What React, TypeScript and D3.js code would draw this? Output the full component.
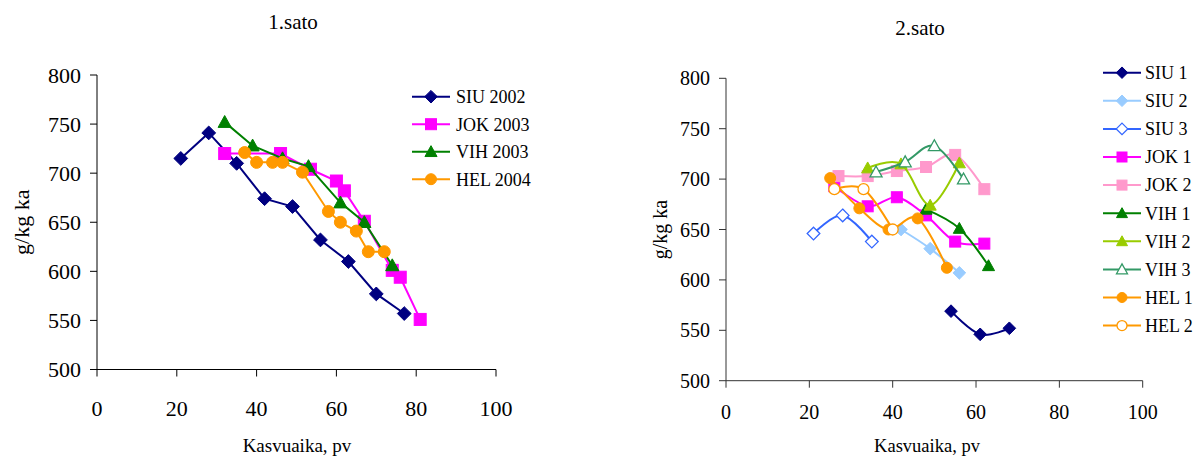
import React from "react";
import * as d3 from "d3";

// ---- 1.sato ----
const siu2002X = [21, 28, 35, 42, 49, 56, 63, 70, 77];
const siu2002Y = [715, 741, 710, 674, 666, 632, 610, 577, 557];
const jok2003X = [32, 46, 53.5, 60, 62, 67, 74, 76, 81];
const jok2003Y = [720, 720, 704, 692, 682, 651, 601, 594, 551];
const vih2003X = [32, 39, 46.5, 53, 61, 67, 74];
const vih2003Y = [752, 728, 715, 707, 670, 650, 606];
const hel2004X = [37, 40, 44, 46.5, 51.5, 58, 61, 65, 68, 72];
const hel2004Y = [721, 711, 711, 711, 701, 661, 650, 641, 620, 620];

// ---- 2.sato ----
const siu1X = [54, 61, 68];
const siu1Y = [569, 546, 552];
const siu2X = [42, 49, 56];
const siu2Y = [650, 631, 607];
const siu3X = [21, 28, 35];
const siu3Y = [646, 664, 638];
const jok1X = [26, 34, 41, 48, 55, 62];
const jok1Y = [693, 673, 682, 664, 638, 636];
const jok2X = [27, 34, 41, 48, 55, 62];
const jok2Y = [703, 703, 708, 712, 724, 690];
const vih1X = [48, 56, 63];
const vih1Y = [670, 651, 614];
const vih2X = [34, 42, 49, 56];
const vih2Y = [711, 715, 674, 716];
const vih3X = [36, 43, 50, 57];
const vih3Y = [707, 717, 733, 700];
const hel1X = [25, 32, 39, 46, 53];
const hel1Y = [701, 671, 650, 661, 612];
const hel2X = [26, 33, 40];
const hel2Y = [690, 690, 650];

const xTicks = [0, 20, 40, 60, 80, 100];
const yTicks = [500, 550, 600, 650, 700, 750, 800];

type Marker = "diamond" | "square" | "triangle" | "circle";
type Series = {
  name: string;
  xs: number[];
  ys: number[];
  color: string;
  marker: Marker;
  filled: boolean;
};

const leftSeries: Series[] = [
  { name: "SIU 2002", xs: siu2002X, ys: siu2002Y, color: "#000080", marker: "diamond", filled: true },
  { name: "JOK 2003", xs: jok2003X, ys: jok2003Y, color: "#FF00FF", marker: "square", filled: true },
  { name: "VIH 2003", xs: vih2003X, ys: vih2003Y, color: "#008000", marker: "triangle", filled: true },
  { name: "HEL 2004", xs: hel2004X, ys: hel2004Y, color: "#FF9900", marker: "circle", filled: true },
];

const rightSeries: Series[] = [
  { name: "SIU 1", xs: siu1X, ys: siu1Y, color: "#000080", marker: "diamond", filled: true },
  { name: "SIU 2", xs: siu2X, ys: siu2Y, color: "#99CCFF", marker: "diamond", filled: true },
  { name: "SIU 3", xs: siu3X, ys: siu3Y, color: "#3366FF", marker: "diamond", filled: false },
  { name: "JOK 1", xs: jok1X, ys: jok1Y, color: "#FF00FF", marker: "square", filled: true },
  { name: "JOK 2", xs: jok2X, ys: jok2Y, color: "#FF99CC", marker: "square", filled: true },
  { name: "VIH 1", xs: vih1X, ys: vih1Y, color: "#008000", marker: "triangle", filled: true },
  { name: "VIH 2", xs: vih2X, ys: vih2Y, color: "#99CC00", marker: "triangle", filled: true },
  { name: "VIH 3", xs: vih3X, ys: vih3Y, color: "#339966", marker: "triangle", filled: false },
  { name: "HEL 1", xs: hel1X, ys: hel1Y, color: "#FF9900", marker: "circle", filled: true },
  { name: "HEL 2", xs: hel2X, ys: hel2Y, color: "#FF9900", marker: "circle", filled: false },
];

const FONT = "'Liberation Serif', 'Times New Roman', serif";

function MarkerShape({ kind, x, y, size, color, filled }: { kind: Marker; x: number; y: number; size: number; color: string; filled: boolean }) {
  const s = size / 2;
  const fill = filled ? color : "#ffffff";
  const sw = filled ? 1 : 1.3;
  if (kind === "circle") {
    return <circle cx={x} cy={y} r={s} fill={fill} stroke={color} strokeWidth={sw} />;
  }
  if (kind === "square") {
    return <rect x={x - s} y={y - s} width={size} height={size} fill={fill} stroke={color} strokeWidth={sw} />;
  }
  if (kind === "diamond") {
    const d = s * 1.15;
    return <path d={`M${x},${y - d}L${x + d},${y}L${x},${y + d}L${x - d},${y}Z`} fill={fill} stroke={color} strokeWidth={sw} />;
  }
  const t = s * 1.1;
  return <path d={`M${x},${y - t}L${x + t},${y + t * 0.8}L${x - t},${y + t * 0.8}Z`} fill={fill} stroke={color} strokeWidth={sw} />;
}

type PanelProps = {
  title: string;
  titleX: number;
  titleY: number;
  left: number;
  right: number;
  top: number;
  bottom: number;
  series: Series[];
  smooth: boolean;
  tickFont: number;
  labelFont: number;
  axisColor: string;
  markerSize: number;
  yLabelX: number;
  xLabelX: number;
  xLabelY: number;
  xTickY: number;
  legendLineX0: number;
  legendLineX1: number;
  legendTextX: number;
  legendY0: number;
  legendStep: number;
};

function Panel(p: PanelProps) {
  const x = d3.scaleLinear().domain([0, 100]).range([p.left, p.right]);
  const y = d3.scaleLinear().domain([500, 800]).range([p.bottom, p.top]);
  const line = d3
    .line<[number, number]>()
    .x((d) => x(d[0]))
    .y((d) => y(d[1]))
    .curve(p.smooth ? d3.curveCardinal.tension(0) : d3.curveLinear);
  const yMid = (p.top + p.bottom) / 2;
  return (
    <g>
      <text x={p.titleX} y={p.titleY} textAnchor="middle" fontSize={21} fontFamily={FONT} fill="#000">
        {p.title}
      </text>
      {/* axes */}
      <line x1={p.left} x2={p.left} y1={p.top} y2={p.bottom} stroke={p.axisColor} strokeWidth={1} />
      <line x1={p.left} x2={p.right} y1={p.bottom} y2={p.bottom} stroke={p.axisColor} strokeWidth={1} />
      {yTicks.map((t) => (
        <g key={"y" + t}>
          <line x1={p.left - 7} x2={p.left} y1={y(t)} y2={y(t)} stroke={p.axisColor} />
          <text x={p.left - 16} y={y(t)} dy="0.35em" textAnchor="end" fontSize={p.tickFont} fontFamily={FONT} fill="#000">
            {t}
          </text>
        </g>
      ))}
      {xTicks.map((t) => (
        <g key={"x" + t}>
          <line x1={x(t)} x2={x(t)} y1={p.bottom} y2={p.bottom + 7} stroke={p.axisColor} />
          <text x={x(t)} y={p.xTickY} textAnchor="middle" fontSize={p.tickFont} fontFamily={FONT} fill="#000">
            {t}
          </text>
        </g>
      ))}
      <text
        transform={`translate(${p.yLabelX},${yMid}) rotate(-90)`}
        textAnchor="middle"
        dy="0.35em"
        fontSize={p.tickFont}
        fontFamily={FONT}
        fill="#000"
      >
        g/kg ka
      </text>
      <text x={p.xLabelX} y={p.xLabelY} textAnchor="middle" fontSize={p.labelFont} fontFamily={FONT} fill="#000">
        Kasvuaika, pv
      </text>
      {/* series */}
      {p.series.map((s) => {
        const pts = s.xs.map((v, i) => [v, s.ys[i]] as [number, number]);
        return (
          <g key={s.name}>
            <path d={line(pts) || ""} fill="none" stroke={s.color} strokeWidth={2} />
            {pts.map((d, i) => (
              <MarkerShape key={i} kind={s.marker} x={x(d[0])} y={y(d[1])} size={p.markerSize} color={s.color} filled={s.filled} />
            ))}
          </g>
        );
      })}
      {/* legend */}
      {p.series.map((s, i) => {
        const ly = p.legendY0 + i * p.legendStep;
        return (
          <g key={"lg" + s.name}>
            <line x1={p.legendLineX0} x2={p.legendLineX1} y1={ly} y2={ly} stroke={s.color} strokeWidth={2} />
            <MarkerShape kind={s.marker} x={(p.legendLineX0 + p.legendLineX1) / 2} y={ly} size={p.markerSize - 1} color={s.color} filled={s.filled} />
            <text x={p.legendTextX} y={ly} dy="0.35em" fontSize={18} fontFamily={FONT} fill="#000">
              {s.name}
            </text>
          </g>
        );
      })}
    </g>
  );
}

export default function App() {
  return (
    <svg width={1199} height={460} style={{ position: "absolute", left: 0, top: 0, background: "#fff" }}>
      <rect x={0} y={0} width={1199} height={460} fill="#fff" />
      <Panel
        title="1.sato"
        titleX={293}
        titleY={29}
        left={97}
        right={496}
        top={75}
        bottom={369.5}
        series={leftSeries}
        smooth={false}
        tickFont={22}
        labelFont={19}
        axisColor="#000"
        markerSize={12}
        yLabelX={21}
        xLabelX={297}
        xLabelY={452}
        xTickY={416}
        legendLineX0={412}
        legendLineX1={450}
        legendTextX={456}
        legendY0={96.7}
        legendStep={27.5}
      />
      <Panel
        title="2.sato"
        titleX={920}
        titleY={35}
        left={726}
        right={1142.7}
        top={78.3}
        bottom={380.7}
        series={rightSeries}
        smooth={true}
        tickFont={20}
        labelFont={18.5}
        axisColor="#333"
        markerSize={11}
        yLabelX={660}
        xLabelX={927}
        xLabelY={452}
        xTickY={419}
        legendLineX0={1103}
        legendLineX1={1141}
        legendTextX={1145}
        legendY0={72.7}
        legendStep={28.1}
      />
    </svg>
  );
}
